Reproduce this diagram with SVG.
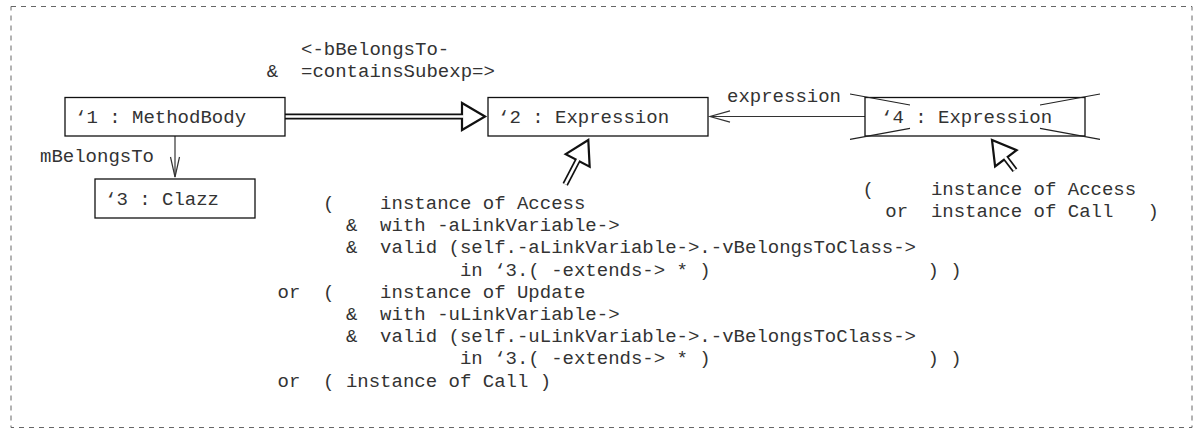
<svg xmlns="http://www.w3.org/2000/svg" width="1196" height="428" viewBox="0 0 1196 428">
  <style>
    text { font-family: "Liberation Mono", "Courier New", monospace; font-size: 19px; fill: #333; white-space: pre; }
    .box { fill: #fff; stroke: #111; stroke-width: 1.3; }
    .frame { fill: none; stroke: #666; stroke-width: 1; stroke-dasharray: 5 5; }
    .line { fill: none; stroke: #333; stroke-width: 1.2; }
    .neg { fill: none; stroke: #222; stroke-width: 1.2; }
    .head { fill: #fff; stroke: #111; stroke-width: 2.2; stroke-linejoin: miter; }
    .shaft { stroke: #111; stroke-width: 6; }
    .shaftIn { stroke: #fff; stroke-width: 2.6; }
  </style>

  <!-- dashed frame round the whole pattern -->
  <rect class="frame" x="11" y="6.5" width="1181" height="421"/>

  <!-- link labels -->
  <g id="labels">
    <text x="301" y="55">&lt;-bBelongsTo-</text>
    <text x="266.8" y="77">&amp;  =containsSubexp=&gt;</text>
    <text x="40" y="162">mBelongsTo</text>
    <text x="727" y="102">expression</text>
  </g>

  <!-- connectors -->
  <g id="connectors">
    <!-- '1 to '2, double line with hollow head -->
    <g transform="translate(485,116.5)">
      <path class="head" d="M0,0 L-23,-13.5 L-23,13.5 Z"/>
      <line class="shaft" x1="-200" y1="0" x2="-23" y2="0"/>
      <line class="shaftIn" x1="-200" y1="0" x2="-21.5" y2="0"/>
    </g>
    <!-- mBelongsTo -->
    <line class="line" x1="175" y1="135" x2="175" y2="177"/>
    <path class="line" d="M170.5,157 L175,177 L179.5,157"/>
    <!-- expression -->
    <line class="line" x1="865" y1="116.5" x2="710" y2="116.5"/>
    <path class="line" d="M730,110.8 L710,116.5 L730,122.2"/>
    <!-- constraint pointer on '2 -->
    <g transform="translate(588.3,140) rotate(-62.5)">
      <path class="head" d="M0,0 L-23,-13.5 L-23,13.5 Z"/>
      <line class="shaft" x1="-50" y1="0" x2="-23" y2="0"/>
      <line class="shaftIn" x1="-50" y1="0" x2="-21.5" y2="0"/>
    </g>
    <!-- constraint pointer on '4 -->
    <g transform="translate(992,140) rotate(-127.1)">
      <path class="head" d="M0,0 L-23,-13.5 L-23,13.5 Z"/>
      <line class="shaft" x1="-38" y1="0" x2="-23" y2="0"/>
      <line class="shaftIn" x1="-38" y1="0" x2="-21.5" y2="0"/>
    </g>
  </g>

  <g id="node1">
    <rect class="box" x="65" y="97.5" width="220" height="38.5"/>
    <text x="75" y="123">‘1 : MethodBody</text>
  </g>

  <g id="node2">
    <rect class="box" x="488" y="97.5" width="220" height="38.5"/>
    <text x="498" y="123">‘2 : Expression</text>
  </g>

  <g id="node3">
    <rect class="box" x="95" y="179" width="160" height="39"/>
    <text x="105" y="205">‘3 : Clazz</text>
  </g>

  <g id="node4">
    <rect class="box" x="865" y="97.5" width="220" height="38.5"/>
    <text x="881" y="123">‘4 : Expression</text>
    <!-- crossed-out (negative) marks -->
    <path class="neg" d="M850,94 L910,105 M1100,94 L1040,105 M850,139.3 L910,128.3 M1100,139.3 L1040,128.3"/>
  </g>

  <!-- constraint attached to '2 -->
  <g id="constraint2">
    <text x="277.5" y="209">    (    instance of Access</text>
    <text x="277.5" y="231.2">      &amp;  with -aLinkVariable-&gt;</text>
    <text x="277.5" y="253.4">      &amp;  valid (self.-aLinkVariable-&gt;.-vBelongsToClass-&gt;</text>
    <text x="277.5" y="275.6">                in ‘3.( -extends-&gt; * )                   ) )</text>
    <text x="277.5" y="297.8">or  (    instance of Update</text>
    <text x="277.5" y="320">      &amp;  with -uLinkVariable-&gt;</text>
    <text x="277.5" y="342.2">      &amp;  valid (self.-uLinkVariable-&gt;.-vBelongsToClass-&gt;</text>
    <text x="277.5" y="364.4">                in ‘3.( -extends-&gt; * )                   ) )</text>
    <text x="277.5" y="386.6">or  ( instance of Call )</text>
  </g>

  <!-- constraint attached to '4 -->
  <g id="constraint4">
    <text x="862.5" y="195">(     instance of Access</text>
    <text x="862.5" y="217">  or  instance of Call   )</text>
  </g>
</svg>
